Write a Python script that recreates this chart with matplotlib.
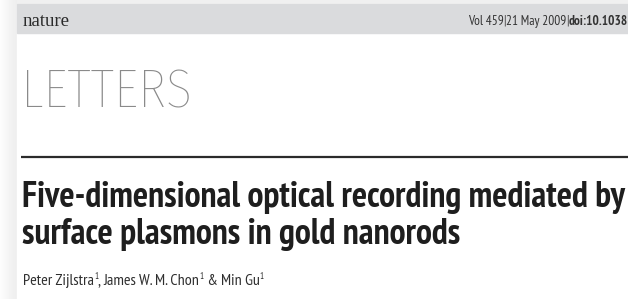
import matplotlib
matplotlib.use("Agg")
import matplotlib.pyplot as plt
import numpy as np
from matplotlib.patches import Rectangle

W, H = 628, 299

JOURNAL = "nature"
HEADER_PLAIN = ["Vol 459", "|", "21 May 2009", "|"]
HEADER_BOLD = "doi:10.1038"
SECTION = "LETTERS"
TITLE = ["Five-dimensional optical recording mediated by",
         "surface plasmons in gold nanorods"]
AUTHORS = ["Peter Zijlstra", "James W. M. Chon", "Min Gu"]
AFFIL = ["1", "1", "1"]
JOINERS = [", ", " & ", ""]

NARROW = "PT Sans Narrow"


def runs(ax, x, y, parts, renderer):
    """Draw (text, kwargs, dy) pieces one after another, return end x."""
    for s, kw, dy in parts:
        t = ax.text(x, y - dy, s, va="baseline", ha="left", **kw)
        x += t.get_window_extent(renderer).width
    return x


fig = plt.figure(figsize=(W / 100, H / 100), dpi=100, facecolor="#f0f0f0")
ax = fig.add_axes([0, 0, 1, 1])
ax.set_xlim(0, W)
ax.set_ylim(H, 0)
ax.axis("off")
r = fig.canvas.get_renderer()

# page shadow on the left and top
grad = np.linspace(0.99, 0.93, 17)[None, :]
ax.imshow(np.repeat(grad, 2, axis=0), cmap="gray", vmin=0, vmax=1,
          extent=[0, 17, H, 0], aspect="auto", zorder=0)
ax.add_patch(Rectangle((17, 4), W - 17, H - 4, color="white", zorder=1))
ax.add_patch(Rectangle((17, 4), W - 17, 29, color="#dadbdd", zorder=2))

# header band
ax.text(23, 25.5, JOURNAL, family="Liberation Serif", fontsize=13.5,
        color="#2a2a2a", va="baseline", zorder=3)
head = [(s, dict(family=NARROW, fontsize=9.5, color="#333333", zorder=3), 0)
        for s in HEADER_PLAIN]
head.append((HEADER_BOLD, dict(family=NARROW, fontsize=9.5, weight="bold",
                               color="#333333", zorder=3), 0))
widths = []
for s, kw, _ in head:
    t = ax.text(0, 0, s, **kw)
    widths.append(t.get_window_extent(r).width)
    t.remove()
runs(ax, 628 - sum(widths), 25, head, r)

# section name and rule
ax.text(21, 108, SECTION, family="Fira Sans Condensed", weight=250,
        fontsize=39, color="#8a8a8a", va="baseline", zorder=3)
ax.plot([21, W], [157, 157], color="#2b2b2b", lw=1.6, zorder=3,
        solid_capstyle="butt")

# title
for i, line in enumerate(TITLE):
    ax.text(22, 207 + i * 37, line, family=NARROW, weight="bold",
            fontsize=25.8, color="#1e1e1e", va="baseline", zorder=3)

# authors with affiliation marks
parts = []
for name, aff, j in zip(AUTHORS, AFFIL, JOINERS):
    kw = dict(family=NARROW, fontsize=11.5, color="#2e2e2e", zorder=3)
    parts.append((name, kw, 0))
    parts.append((aff, dict(kw, fontsize=6.5), 6))
    if j:
        parts.append((j, kw, 0))
runs(ax, 23, 285, parts, r)

fig.savefig("out.png", dpi=100, facecolor=fig.get_facecolor())
